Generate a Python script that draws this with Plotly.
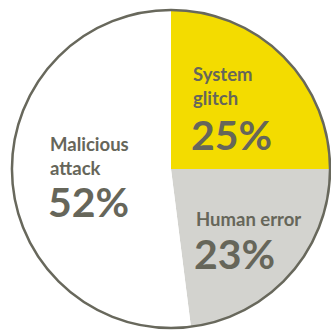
import plotly.graph_objects as go

labels = ["System glitch", "Human error", "Malicious attack"]
label_lines = ["System<br>glitch", "Human error", "Malicious<br>attack"]
values = [25, 23, 52]
colors = ["#F3DC00", "#D3D3CF", "#FFFFFF"]

TEXT = "#66665A"
OUTLINE = "#68685C"

W = H = 331
dom_x = [12 / W, 330 / W]
dom_y = [1 - 328 / H, 1 - 10 / H]

fig = go.Figure()
fig.add_trace(go.Pie(
    labels=labels, values=values, sort=False, direction="clockwise", rotation=0,
    marker=dict(colors=colors, line=dict(width=0)),
    textinfo="none", hoverinfo="label+percent", showlegend=False,
    domain=dict(x=dom_x, y=dom_y),
))
# outer outline only
fig.add_trace(go.Pie(
    labels=["outline"], values=[1], sort=False,
    marker=dict(colors=["rgba(0,0,0,0)"], line=dict(width=2.5, color=OUTLINE)),
    textinfo="none", hoverinfo="skip", showlegend=False,
    domain=dict(x=dom_x, y=dom_y),
))

# label positions (pixel top-left of text blocks)
pos = [(191, 61), (194, 206), (48, 131)]
pct_pos = [(189, 108), (192, 227), (46, 175)]

anns = []
for i in range(3):
    x, y = pos[i]
    anns.append(dict(x=x / W, y=1 - y / H, xref="paper", yref="paper",
                     xanchor="left", yanchor="top", align="left", showarrow=False,
                     text=label_lines[i],
                     font=dict(family="Lato", size=18.5, color=TEXT, weight="bold")))
    x, y = pct_pos[i]
    anns.append(dict(x=x / W, y=1 - y / H, xref="paper", yref="paper",
                     xanchor="left", yanchor="top", align="left", showarrow=False,
                     text=f"{values[i]}%",
                     font=dict(family="Lato", size=41, color=TEXT, weight="bold")))

fig.update_layout(
    width=W, height=H, margin=dict(l=0, r=0, t=0, b=0),
    paper_bgcolor="white", plot_bgcolor="white",
    annotations=anns,
)
fig.write_html("out.html")
